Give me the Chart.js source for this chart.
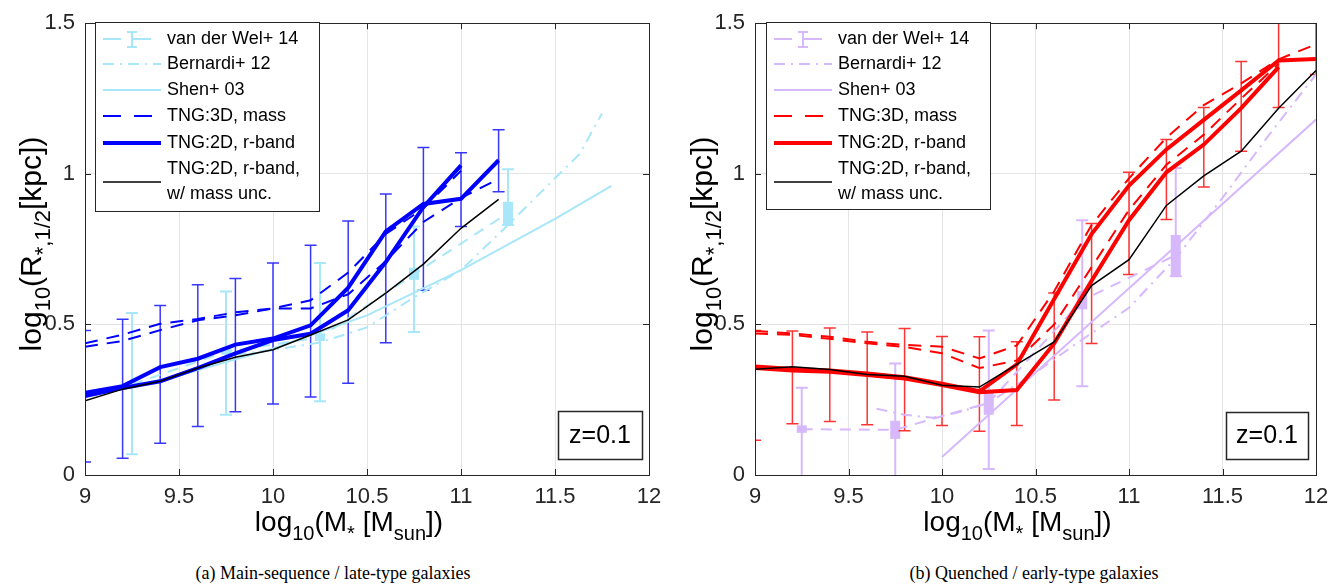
<!DOCTYPE html>
<html><head><meta charset="utf-8">
<script src="https://cdn.jsdelivr.net/npm/chart.js@4.4.1/dist/chart.umd.min.js"></script>
<style>
html,body{margin:0;padding:0;background:#fff;}
#wrap{position:relative;width:1342px;height:586px;overflow:hidden;background:#fff}
canvas{position:absolute;top:0}
#cL{left:0} #cR{left:671px}
.cap{position:absolute;top:563px;font-family:'Liberation Serif','Times New Roman',serif;font-size:18px;color:#000;white-space:nowrap;transform:translateX(-50%)}
</style></head><body>
<div id="wrap">
<canvas id="cL" width="671" height="560"></canvas>
<canvas id="cR" width="671" height="560"></canvas>
<div class="cap" style="left:333px">(a) Main-sequence / late-type galaxies</div>
<div class="cap" style="left:1034px">(b) Quenched / early-type galaxies</div>
</div>
<script>
// ---------------- data ----------------
const X_TICKS = [9, 9.5, 10, 10.5, 11, 11.5, 12];
const Y_TICKS = [0, 0.5, 1, 1.5];
const LEGEND_LABELS = ['van der Wel+ 14', 'Bernardi+ 12', 'Shen+ 03', 'TNG:3D, mass', 'TNG:2D, r-band', 'TNG:2D, r-band,', 'w/ mass unc.'];
const Z_LABEL = 'z=0.1';

// (a) main-sequence / late-type
const msMass    = [9.0, 9.2, 9.4, 9.6, 9.8, 10.0, 10.2, 10.4, 10.6, 10.8, 11.0, 11.2];
const msR2D_a   = [0.273, 0.295, 0.358, 0.386, 0.433, 0.453, 0.497, 0.622, 0.809, 0.900, 0.917, 1.045];
const msR2D_b   = [0.262, 0.289, 0.311, 0.355, 0.404, 0.448, 0.469, 0.547, 0.707, 0.890, 1.028];
const msR3D_a   = [0.437, 0.466, 0.502, 0.518, 0.540, 0.553, 0.580, 0.672, 0.800, 0.885, 1.010];
const msR3D_b   = [0.426, 0.445, 0.481, 0.514, 0.530, 0.553, 0.553, 0.600, 0.710, 0.840, 0.920, 0.983];
const msR2D_unc = [0.246, 0.285, 0.311, 0.355, 0.391, 0.416, 0.465, 0.515, 0.604, 0.700, 0.819, 0.915];
const msErrLo   = [0.043, 0.056, 0.105, 0.161, 0.210, 0.236, 0.259, 0.305, 0.439, 0.613, 0.825, 0.940];
const msErrHi   = [0.480, 0.517, 0.563, 0.632, 0.652, 0.704, 0.763, 0.843, 0.933, 1.087, 1.070, 1.146];
const msVdwMass  = [9.25, 9.75, 10.25, 10.75, 11.25];
const msVdwMed   = [0.300, 0.410, 0.457, 0.667, 0.870];
const msVdwBoxLo = [0.290, 0.400, 0.445, 0.648, 0.830];
const msVdwBoxHi = [0.310, 0.420, 0.470, 0.688, 0.907];
const msVdwErrLo = [0.069, 0.200, 0.245, 0.475, 0.830];
const msVdwErrHi = [0.538, 0.609, 0.704, 0.825, 1.015];
const msBernMass = [9.8, 10.0, 10.25, 10.5, 10.75, 11.0, 11.25, 11.5, 11.63, 11.75];
const msBernR    = [0.400, 0.415, 0.440, 0.490, 0.590, 0.680, 0.830, 0.985, 1.065, 1.200];
const msShenMass = [9.0, 9.5, 10.0, 10.5, 11.0, 11.5, 11.8];
const msShenR    = [0.260, 0.330, 0.420, 0.530, 0.680, 0.850, 0.960];

// (b) quenched / early-type
const qMass    = [9.0, 9.2, 9.4, 9.6, 9.8, 10.0, 10.2, 10.4, 10.6, 10.8, 11.0, 11.2, 11.4, 11.6, 11.8, 12.0];
const qR2D_a   = [0.360, 0.352, 0.347, 0.337, 0.325, 0.303, 0.278, 0.367, 0.584, 0.800, 0.961, 1.081, 1.179, 1.277, 1.376, 1.381];
const qR2D_b   = [0.355, 0.347, 0.343, 0.332, 0.320, 0.299, 0.275, 0.282, 0.437, 0.645, 0.846, 1.005, 1.097, 1.218, 1.354];
const qR3D_a   = [0.478, 0.470, 0.459, 0.442, 0.432, 0.426, 0.387, 0.430, 0.610, 0.830, 0.985, 1.120, 1.228, 1.300, 1.380, 1.430];
const qR3D_b   = [0.470, 0.465, 0.452, 0.437, 0.425, 0.404, 0.355, 0.380, 0.500, 0.690, 0.880, 1.030, 1.130, 1.250, 1.365];
const qR2D_unc = [0.351, 0.359, 0.350, 0.334, 0.328, 0.298, 0.292, 0.367, 0.442, 0.629, 0.715, 0.895, 0.993, 1.075, 1.218, 1.343];
const qErrLo   = [0.115, 0.170, 0.178, 0.167, 0.147, 0.164, 0.145, 0.164, 0.249, 0.437, 0.666, 0.848, 0.956, 1.075, 1.220, 1.330];
const qErrHi   = [0.480, 0.478, 0.488, 0.475, 0.486, 0.460, 0.459, 0.442, 0.604, 0.835, 1.005, 1.114, 1.220, 1.373, 1.600, 1.600];
const qVdwMass  = [9.25, 9.75, 10.25, 10.75, 11.25];
const qVdwMed   = [0.152, 0.150, 0.240, 0.580, 0.730];
const qVdwBoxLo = [0.140, 0.120, 0.200, 0.550, 0.660];
const qVdwBoxHi = [0.165, 0.180, 0.280, 0.610, 0.797];
const qVdwErrLo = [-0.200, -0.200, 0.020, 0.295, 0.660];
const qVdwErrHi = [0.290, 0.370, 0.480, 0.846, 1.019];
const qBernMass = [9.65, 9.8, 9.95, 10.1, 10.25, 10.5, 10.75, 11.0, 11.25, 11.5, 11.75, 12.0];
const qBernR    = [0.220, 0.200, 0.190, 0.210, 0.240, 0.340, 0.450, 0.555, 0.720, 0.920, 1.130, 1.330];
const qShenMass = [10.0, 11.0, 12.0];
const qShenR    = [0.060, 0.620, 1.180];

// ---------------- styling ----------------
const FONT = "'Liberation Sans', Arial, Helvetica, sans-serif";
const AX = '#262626';
const GRID = '#e4e4e4';
const BLUE = '#0000ff', RED = '#ff0000', BLACK = '#000000';
const LBLUE = '#a8e6fa', LILAC = '#d6b8fb';
const DASH_SIM = [13, 9];
const DASH_OBS = [11, 8];
const DASHDOT = [11, 6, 2, 6];

function pts(xs, ys) { return ys.map((y, i) => ({ x: xs[i], y: y })); }
function line(data, color, width, dash) {
  return { data: data, borderColor: color, backgroundColor: color, borderWidth: width, borderDash: dash || [],
           pointRadius: 0, pointHoverRadius: 0, showLine: true, fill: false, tension: 0 };
}

function drawRich(ctx, parts, x, y, main, sub, subDy, rotate) {
  ctx.save();
  ctx.translate(x, y);
  if (rotate) ctx.rotate(-Math.PI / 2);
  let w = 0;
  parts.forEach(p => { ctx.font = (p.s ? sub : main) + 'px ' + FONT; w += ctx.measureText(p.t).width; });
  let cx = -w / 2;
  ctx.fillStyle = '#000';
  ctx.textBaseline = 'alphabetic';
  ctx.textAlign = 'left';
  parts.forEach(p => {
    ctx.font = (p.s ? sub : main) + 'px ' + FONT;
    ctx.fillText(p.t, cx, p.s ? subDy : 0);
    cx += ctx.measureText(p.t).width;
  });
  ctx.restore();
}

function errBar(ctx, xs, ys, xv, lo, hi, cap) {
  const px = xs.getPixelForValue(xv), p1 = ys.getPixelForValue(lo), p2 = ys.getPixelForValue(hi);
  ctx.beginPath();
  ctx.moveTo(px, p1); ctx.lineTo(px, p2);
  ctx.moveTo(px - cap, p1); ctx.lineTo(px + cap, p1);
  ctx.moveTo(px - cap, p2); ctx.lineTo(px + cap, p2);
  ctx.stroke();
}

const decoPlugin = {
  id: 'deco',
  beforeDatasetsDraw(chart) {
    const o = chart.options.plugins.deco, ctx = chart.ctx, a = chart.chartArea;
    const xs = chart.scales.x, ys = chart.scales.y;
    ctx.save();
    ctx.beginPath(); ctx.rect(a.left, a.top, a.right - a.left, a.bottom - a.top); ctx.clip();
    ctx.strokeStyle = o.obsColor; ctx.lineWidth = 2; ctx.setLineDash([]);
    o.vdw.x.forEach((xv, i) => errBar(ctx, xs, ys, xv, o.vdw.errLo[i], o.vdw.errHi[i], 6));
    ctx.fillStyle = o.obsColor;
    o.vdw.x.forEach((xv, i) => {
      const px = xs.getPixelForValue(xv);
      const t = ys.getPixelForValue(o.vdw.boxHi[i]), b = ys.getPixelForValue(o.vdw.boxLo[i]);
      ctx.fillRect(px - 5, t, 10, Math.max(b - t, 4));
    });
    ctx.strokeStyle = o.errColor; ctx.lineWidth = 1.5;
    o.sim.x.forEach((xv, i) => errBar(ctx, xs, ys, xv, o.sim.lo[i], o.sim.hi[i], 6));
    ctx.restore();
  },
  afterDraw(chart) {
    const o = chart.options.plugins.deco, ctx = chart.ctx, a = chart.chartArea;
    const xs = chart.scales.x, ys = chart.scales.y;
    ctx.save();
    ctx.strokeStyle = AX; ctx.lineWidth = 1; ctx.setLineDash([]);
    ctx.strokeRect(Math.round(a.left) + 0.5, Math.round(a.top) + 0.5, Math.round(a.right - a.left), Math.round(a.bottom - a.top));
    ctx.beginPath();
    X_TICKS.forEach(v => { const p = Math.round(xs.getPixelForValue(v)) + 0.5;
      ctx.moveTo(p, a.bottom); ctx.lineTo(p, a.bottom - 6); ctx.moveTo(p, a.top); ctx.lineTo(p, a.top + 6); });
    Y_TICKS.forEach(v => { const p = Math.round(ys.getPixelForValue(v)) + 0.5;
      ctx.moveTo(a.left, p); ctx.lineTo(a.left + 6, p); ctx.moveTo(a.right, p); ctx.lineTo(a.right - 6, p); });
    ctx.stroke();

    const L = o.legend;
    ctx.fillStyle = '#fff';
    ctx.fillRect(L.x, L.y, L.w, L.h);
    ctx.strokeStyle = AX; ctx.lineWidth = 1;
    ctx.strokeRect(L.x + 0.5, L.y + 0.5, L.w, L.h);
    const lx1 = L.x + 8, lx2 = L.x + 66, tx = L.x + 72;
    const rows = [L.y + 17, L.y + 42, L.y + 68, L.y + 94, L.y + 121, L.y + 147, L.y + 172];
    function sample(y, color, w, dash) {
      ctx.beginPath(); ctx.setLineDash(dash); ctx.strokeStyle = color; ctx.lineWidth = w;
      ctx.moveTo(lx1, y); ctx.lineTo(lx2, y); ctx.stroke(); ctx.setLineDash([]);
    }
    sample(rows[0], o.obsColor, 2, [18, 12]);
    ctx.strokeStyle = o.obsColor; ctx.lineWidth = 2;
    ctx.beginPath(); const ex = lx1 + 29;
    ctx.moveTo(ex, rows[0] - 7); ctx.lineTo(ex, rows[0] + 8);
    ctx.moveTo(ex - 5, rows[0] - 7); ctx.lineTo(ex + 5, rows[0] - 7);
    ctx.moveTo(ex - 5, rows[0] + 8); ctx.lineTo(ex + 5, rows[0] + 8); ctx.stroke();
    sample(rows[1], o.obsColor, 2, DASHDOT);
    sample(rows[2], o.obsColor, 2, []);
    sample(rows[3], o.simColor, 2, [18, 13]);
    sample(rows[4], o.simColor, 4, []);
    sample((rows[5] + rows[6]) / 2 + 0.5, BLACK, 1.5, []);
    ctx.fillStyle = '#000'; ctx.font = '18px ' + FONT; ctx.textBaseline = 'middle'; ctx.textAlign = 'left';
    LEGEND_LABELS.forEach((t, i) => ctx.fillText(t, tx, rows[i]));

    const Z = o.zbox;
    ctx.fillStyle = '#fff'; ctx.fillRect(Z.x, Z.y, Z.w, Z.h);
    ctx.strokeStyle = AX; ctx.strokeRect(Z.x + 0.5, Z.y + 0.5, Z.w, Z.h);
    ctx.fillStyle = '#000'; ctx.font = '25px ' + FONT; ctx.textAlign = 'center'; ctx.textBaseline = 'middle';
    ctx.fillText(Z_LABEL, Z.x + Z.w / 2, Z.y + Z.h / 2 + 1);

    const cx = (a.left + a.right) / 2 - 18;
    drawRich(ctx, [{t:'log',s:0},{t:'10',s:1},{t:'(M',s:0},{t:'*',s:1},{t:' [M',s:0},{t:'sun',s:1},{t:'])',s:0}],
             cx, 531, 28, 20, 9, false);
    drawRich(ctx, [{t:'log',s:0},{t:'10',s:1},{t:'(R',s:0},{t:'*,1/2',s:1},{t:'[kpc])',s:0}],
             41, 244, 30, 22, 9, true);
    ctx.restore();
  }
};

function makePanel(id, leftW, rightPad, datasets, deco) {
  return new Chart(document.getElementById(id), {
    type: 'scatter',
    data: { datasets: datasets },
    options: {
      responsive: false, animation: false, events: [],
      layout: { padding: { top: 17, right: rightPad, left: 0, bottom: 0 } },
      plugins: { legend: { display: false }, tooltip: { enabled: false }, deco: deco },
      scales: {
        x: { type: 'linear', min: 9, max: 12,
             afterBuildTicks: s => { s.ticks = X_TICKS.map(v => ({ value: v })); },
             afterFit: s => { s.height = 85; },
             grid: { color: GRID, lineWidth: 1, drawTicks: false }, border: { display: false },
             ticks: { font: { size: 22, family: FONT }, color: AX, padding: 9, maxRotation: 0, autoSkip: false,
                      callback: v => String(v) } },
        y: { type: 'linear', min: 0, max: 1.5,
             afterBuildTicks: s => { s.ticks = Y_TICKS.map(v => ({ value: v })); },
             afterFit: s => { s.width = leftW; },
             grid: { color: GRID, lineWidth: 1, drawTicks: false }, border: { display: false },
             ticks: { font: { size: 22, family: FONT }, color: AX, padding: 10,
                      callback: v => String(v) } }
      }
    },
    plugins: [decoPlugin]
  });
}

makePanel('cL', 85, 22, [
  line(pts(msMass, msR2D_unc), BLACK, 1.5),
  line(pts(msMass, msR2D_a), BLUE, 4),
  line(pts(msMass, msR2D_b), BLUE, 4),
  line(pts(msMass, msR3D_a), BLUE, 2, DASH_SIM),
  line(pts(msMass, msR3D_b), BLUE, 2, DASH_SIM),
  line(pts(msVdwMass, msVdwMed), LBLUE, 2, DASH_OBS),
  line(pts(msBernMass, msBernR), LBLUE, 2, DASHDOT),
  line(pts(msShenMass, msShenR), LBLUE, 2)
], {
  obsColor: LBLUE, simColor: BLUE, errColor: 'rgba(20,20,255,0.85)',
  vdw: { x: msVdwMass, boxLo: msVdwBoxLo, boxHi: msVdwBoxHi, errLo: msVdwErrLo, errHi: msVdwErrHi },
  sim: { x: msMass, lo: msErrLo, hi: msErrHi },
  legend: { x: 95, y: 22, w: 224, h: 189 },
  zbox: { x: 558, y: 411, w: 84, h: 48 }
});

makePanel('cR', 84, 26, [
  line(pts(qMass, qR2D_unc), BLACK, 1.5),
  line(pts(qMass, qR2D_a), RED, 4),
  line(pts(qMass, qR2D_b), RED, 4),
  line(pts(qMass, qR3D_a), RED, 2, DASH_SIM),
  line(pts(qMass, qR3D_b), RED, 2, DASH_SIM),
  line(pts(qVdwMass, qVdwMed), LILAC, 2, DASH_OBS),
  line(pts(qBernMass, qBernR), LILAC, 2, DASHDOT),
  line(pts(qShenMass, qShenR), LILAC, 2)
], {
  obsColor: LILAC, simColor: RED, errColor: 'rgba(255,0,0,0.8)',
  vdw: { x: qVdwMass, boxLo: qVdwBoxLo, boxHi: qVdwBoxHi, errLo: qVdwErrLo, errHi: qVdwErrHi },
  sim: { x: qMass, lo: qErrLo, hi: qErrHi },
  legend: { x: 95, y: 22, w: 224, h: 187 },
  zbox: { x: 555, y: 412, w: 82, h: 47 }
});
</script>
</body></html>
